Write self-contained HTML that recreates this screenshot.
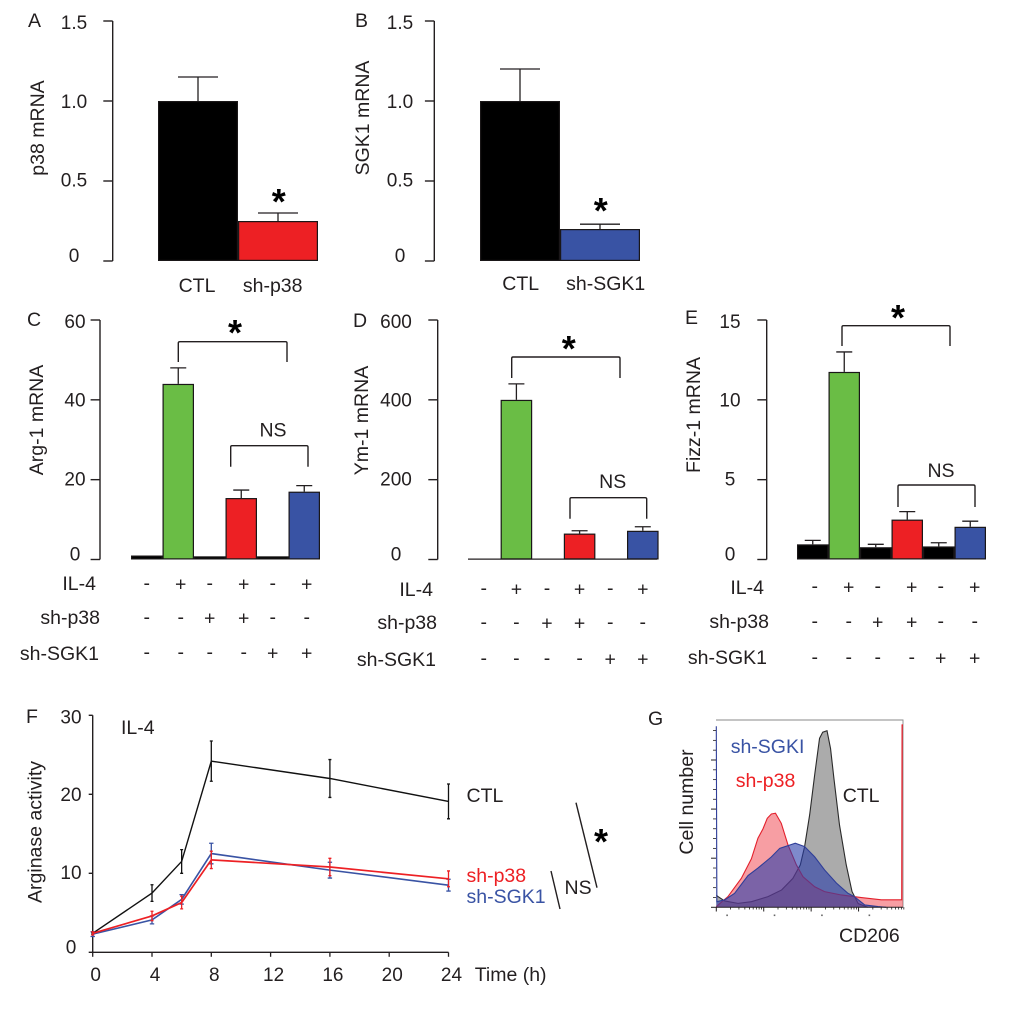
<!DOCTYPE html>
<html lang="en">
<head>
<meta charset="utf-8">
<title>Macrophage mRNA and arginase panels</title>
<style>
html,body{margin:0;padding:0;background:#fff;}
svg{display:block;}
text{font-family:"Liberation Sans",Arial,sans-serif;fill:#231f20;font-size:19.5px;}
.tick{font-size:19px;}
.star{font-size:36px;font-weight:bold;fill:#000;text-anchor:middle;}
.mid{text-anchor:middle;}
.end{text-anchor:end;}
.ln{fill:none;stroke:#231f20;stroke-width:1.4;}
</style>
</head>
<body>
<svg id="figure" width="1020" height="1020" viewBox="0 0 1020 1020" xmlns="http://www.w3.org/2000/svg">
  <rect x="0" y="0" width="1020" height="1020" fill="#fff"/>

  <g id="panel-a">
    <text x="28" y="27">A</text>
    <text class="mid" transform="translate(44,128) rotate(-90)">p38 mRNA</text>
    <text class="mid" x="197" y="292">CTL</text>
    <text class="mid" x="272.7" y="292">sh-p38</text>
    <text class="star" x="278.7" y="214">*</text>
  </g>

  <g id="panel-b">
    <text x="355" y="27">B</text>
    <text class="mid" transform="translate(369,118) rotate(-90)">SGK1 mRNA</text>
    <text class="mid" x="520.7" y="290">CTL</text>
    <text class="mid" x="605.7" y="290">sh-SGK1</text>
    <text class="star" x="600.7" y="223">*</text>
  </g>

  <g id="panel-c">
    <text x="27" y="326">C</text>
    <text class="mid" transform="translate(43,420) rotate(-90)">Arg-1 mRNA</text>
    <path class="ln" d="M178.3 362V343Q178.3 341.7 180 341.7H285.5Q287 341.7 287 343V362"/>
    <text class="star" x="235" y="345">*</text>
    <path class="ln" d="M230.7 466.7V447Q230.7 445.7 232 445.7H306.5Q308 445.7 308 447V466.7"/>
    <text class="mid" x="273" y="436.7">NS</text>
    <text class="end" x="96" y="590">IL-4</text>
    <text class="end" x="100" y="624">sh-p38</text>
    <text class="end" x="99" y="660">sh-SGK1</text>
  </g>

  <g id="panel-d">
    <text x="353" y="327">D</text>
    <text class="mid" transform="translate(368,420.5) rotate(-90)">Ym-1 mRNA</text>
    <path class="ln" d="M511.7 378V358.5Q511.7 357 513 357H618.5Q620 357 620 358.5V378"/>
    <text class="star" x="568.7" y="361">*</text>
    <path class="ln" d="M570 518.7V499Q570 497.7 571.5 497.7H645Q646.7 497.7 646.7 499V518.7"/>
    <text class="mid" x="612.7" y="488">NS</text>
    <text class="end" x="433" y="596">IL-4</text>
    <text class="end" x="437" y="629">sh-p38</text>
    <text class="end" x="436" y="666">sh-SGK1</text>
  </g>

  <g id="panel-e">
    <text x="685" y="324">E</text>
    <text class="mid" transform="translate(700,415) rotate(-90)">Fizz-1 mRNA</text>
    <path class="ln" d="M842 346V327Q842 325.7 843.5 325.7H948.5Q950 325.7 950 327V346"/>
    <text class="star" x="898" y="330">*</text>
    <path class="ln" d="M898 507V486.5Q898 485 899.5 485H973.5Q975 485 975 486.5V507"/>
    <text class="mid" x="941" y="477">NS</text>
    <text class="end" x="764" y="594">IL-4</text>
    <text class="end" x="769" y="628">sh-p38</text>
    <text class="end" x="767" y="664">sh-SGK1</text>
  </g>

  <g id="panel-f">
    <text x="26" y="723">F</text>
    <text class="mid" transform="translate(41.6,832) rotate(-90)">Arginase activity</text>
    <text x="121" y="734">IL-4</text>
    <text x="466.5" y="802">CTL</text>
    <text x="466.5" y="882" style="fill:#ed2024">sh-p38</text>
    <text x="466.5" y="903" style="fill:#3953a4">sh-SGK1</text>
    <text x="474.7" y="981">Time (h)</text>
    <text x="564.5" y="894">NS</text>
    <path class="ln" d="M551 871L560 909"/>
    <path class="ln" d="M576 802.7L597 887.7"/>
    <text class="star" x="601" y="854">*</text>
  </g>

  <g id="panel-g">
    <text x="648" y="725">G</text>
    <text class="mid" transform="translate(693,802) rotate(-90)">Cell number</text>
    <path fill="none" stroke="#8a8a8a" stroke-width="0.9" d="M716 720H903V907"/>
  </g>
  <g id="panel-g-labels">
    <text x="730.7" y="753" style="fill:#3953a4">sh-SGKI</text>
    <text x="735.7" y="787" style="fill:#ed2024">sh-p38</text>
    <text x="842.7" y="802">CTL</text>
    <text x="839" y="942">CD206</text>
  </g>
</svg>

<script>
// Panel A
const aCategories = ['CTL', 'sh-p38'];
const aValues = [1, 0.25];
const aErrorTops = [1.15, 0.3];
const aTicks = [0, 0.5, 1, 1.5];
const aTickLabels = ['0', '0.5', '1.0', '1.5'];
// Panel B
const bCategories = ['CTL', 'sh-SGK1'];
const bValues = [1, 0.2];
const bErrorTops = [1.2, 0.23];
const bTicks = [0, 0.5, 1, 1.5];
const bTickLabels = ['0', '0.5', '1.0', '1.5'];
// Panel C
const cValues = [1, 44, 0.8, 15.4, 0.8, 17];
const cErrorTops = [1, 48, 0.8, 17.4, 0.8, 18.5];
const cTicks = [0, 20, 40, 60];
const cTickLabels = ['0', '20', '40', '60'];
// Panel D
const dValues = [0, 400, 0, 65, 0, 72];
const dErrorTops = [0, 440, 0, 72, 0, 82];
const dTicks = [0, 200, 400, 600];
const dTickLabels = ['0', '200', '400', '600'];
// Panel E
const eValues = [0.95, 11.75, 0.77, 2.5, 0.82, 2.05];
const eErrorTops = [1.2, 13, 0.95, 3, 1.05, 2.4];
const eTicks = [0, 5, 10, 15];
const eTickLabels = ['0', '5', '10', '15'];
// Treatment sign rows (C, D, E)
const il4Signs = ['-', '+', '-', '+', '-', '+'];
const shP38Signs = ['-', '-', '+', '+', '-', '-'];
const shSgk1Signs = ['-', '-', '-', '-', '+', '+'];
// Panel F
const fTimes = [0, 4, 6, 8, 16, 24];
const fCtl = [2.4, 7.5, 11.5, 24.2, 22, 19.1];
const fCtlErr = [0.1, 1.05, 1.5, 2.55, 2.4, 2.2];
const fShP38 = [2.4, 4.6, 6.3, 11.7, 10.8, 9.3];
const fShP38Err = [0.2, 0.6, 0.8, 1.1, 1.1, 1];
const fShSgk1 = [2.3, 4.1, 6.7, 12.5, 10.4, 8.5];
const fShSgk1Err = [0.3, 0.5, 0.6, 1.3, 1, 0.75];
const fXTicks = [0, 4, 8, 12, 16, 20, 24];
const fXTickLabels = ['0', '4', '8', '12', '16', '20', '24'];
const fYTicks = [0, 10, 20, 30];
const fYTickLabels = ['0', '10', '20', '30'];
// Panel G: fluorescence channel and cell count, both on a 0-100 scale
const gCtlChannel = [0, 1, 4.5, 11.6, 18.8, 27.7, 35, 41, 45, 47.3, 50, 52.7, 55.3, 57, 59.3, 61.2, 63, 66, 69.6, 72.7, 76, 81];
const gCtlCount = [6.5, 5.7, 3.4, 2.1, 3, 5.7, 9.3, 15.5, 22.7, 32.5, 49.5, 71, 90.5, 93.8, 94.6, 85, 69, 44, 22.7, 8.4, 2, 0];
const gP38Channel = [0, 6.2, 13.4, 18.8, 22.3, 25, 27.3, 29.5, 31.7, 34.8, 38.4, 42.9, 46.4, 52.7, 58, 67, 77.7, 88.4, 99.3, 99.5, 100];
const gP38Count = [0.4, 5.7, 15.5, 26, 37, 42, 47.7, 50, 50.4, 45, 33.4, 22.7, 16.4, 11, 8.4, 6.6, 5.2, 4, 4, 97.7, 97.7];
const gSgk1Channel = [0, 0.3, 4.5, 9.8, 17, 22.3, 29.5, 34, 42.3, 47.3, 52.7, 58, 64.3, 70.5, 74, 79.5, 86.6, 91];
const gSgk1Count = [97, 3, 4, 7.5, 17, 21, 27, 31.6, 34.3, 32.5, 27, 20, 13, 7.5, 5.7, 1.25, 0.4, 0];
const gMajorDecades = [0, 1, 2, 3];

const SVG_NS = 'http://www.w3.org/2000/svg';
const INK = '#231f20';
const BLACK = '#000000', GREEN = '#6abd45', RED = '#ed2024', BLUE = '#3953a4';

function mk(parent, tag, attrs) {
  const el = document.createElementNS(SVG_NS, tag);
  for (const k in attrs) el.setAttribute(k, attrs[k]);
  parent.appendChild(el);
  return el;
}
function panel(id) { return document.getElementById(id); }
function linear(d0, d1, r0, r1) { return v => r0 + (v - d0) * (r1 - r0) / (d1 - d0); }

function drawYAxis(g, o) {
  const spine = mk(g, 'line', {x1: o.x, x2: o.x, y1: o.y(o.ticks[0]), y2: o.y(o.ticks[o.ticks.length - 1]), stroke: INK, 'stroke-width': 1.4});
  
  
  const maxTick = o.ticks[o.ticks.length - 1];
  o.ticks.forEach((v, i) => {
    const t = mk(g, 'line', {x1: o.x - o.len, x2: o.x, y1: o.y(v), y2: o.y(v), stroke: INK, 'stroke-width': 1.4});
    
    
    const off = v === 0 ? 1 : 4.5 + 3.5 * v / maxTick;
    const lab = mk(g, 'text', {x: o.labelX, y: o.y(v) + off, class: 'tick mid'});
    lab.textContent = o.labels[i];
    
    
  });
}

function drawBars(g, o) {
  o.values.forEach((v, i) => {
    const left = o.x0 + i * o.step;
    const c = left + o.step / 2;
    const top = o.y(o.errs[i]);
    const barTop = o.y(v);
    if (o.errs[i] > v) {
      const stem = mk(g, 'line', {x1: c, x2: c, y1: top, y2: barTop, stroke: INK, 'stroke-width': 1.3});
      
      
      const cap = mk(g, 'line', {x1: c - o.cap / 2, x2: c + o.cap / 2, y1: top, y2: top, stroke: INK, 'stroke-width': 1.3});
      
      
    }
    if (v > 0) {
      const bar = mk(g, 'rect', {x: left + 0.6, y: barTop + 0.6, width: o.step - 1.2, height: Math.max(0.2, o.y(0) - barTop - 1.2), fill: o.colors[i], stroke: '#1a1718', 'stroke-width': 1.2});
      
      
    }
  });
}

function drawSignRows(g, o) {
  [il4Signs, shP38Signs, shSgk1Signs].forEach((row, r) => {
    row.forEach((s, i) => {
      const c = o.x0 + (i + 0.5) * o.step + o.shift + (i % 2 ? o.oddShift : 0);
      const t = mk(g, 'text', {x: c, y: o.rowY[r] + (s === '+' ? 6.5 : 5.5), class: 'mid'});
      t.textContent = s;
      
      
    });
  });
}

// A
const yA = linear(0, 1.5, 261, 21);
drawYAxis(panel('panel-a'), {x: 112.7, len: 9.4, y: yA, ticks: aTicks, labels: aTickLabels, labelX: 74});
drawBars(panel('panel-a'), {x0: 158, step: 80, y: yA, values: aValues, errs: aErrorTops, cap: 40, colors: [BLACK, RED]});
// B
const yB = linear(0, 1.5, 261, 21);
drawYAxis(panel('panel-b'), {x: 434.3, len: 9.4, y: yB, ticks: bTicks, labels: bTickLabels, labelX: 400});
drawBars(panel('panel-b'), {x0: 480, step: 80, y: yB, values: bValues, errs: bErrorTops, cap: 40, colors: [BLACK, BLUE]});
// C
const sixColors = [BLACK, GREEN, BLACK, RED, BLACK, BLUE];
const yC = linear(0, 60, 559.5, 320);
drawYAxis(panel('panel-c'), {x: 100, len: 9.4, y: yC, ticks: cTicks, labels: cTickLabels, labelX: 75});
drawBars(panel('panel-c'), {x0: 131, step: 31.5, y: yC, values: cValues, errs: cErrorTops, cap: 16, colors: sixColors});
drawSignRows(panel('panel-c'), {x0: 131, step: 31.5, shift: 0, oddShift: 2.5, rowY: [584, 618, 653]});
// D
const yD = linear(0, 600, 559.5, 320);
drawYAxis(panel('panel-d'), {x: 437.7, len: 9.4, y: yD, ticks: dTicks, labels: dTickLabels, labelX: 396});
const dBase = mk(panel('panel-d'), 'line', {x1: 468, x2: 657, y1: yD(0) - 0.4, y2: yD(0) - 0.4, stroke: INK, 'stroke-width': 1.3});


drawBars(panel('panel-d'), {x0: 469, step: 31.6, y: yD, values: dValues, errs: dErrorTops, cap: 16, colors: sixColors});
drawSignRows(panel('panel-d'), {x0: 469, step: 31.6, shift: -1, oddShift: 1, rowY: [589, 623, 659]});
// E
const yE = linear(0, 15, 559.5, 320);
drawYAxis(panel('panel-e'), {x: 766.7, len: 9.4, y: yE, ticks: eTicks, labels: eTickLabels, labelX: 730});
drawBars(panel('panel-e'), {x0: 797, step: 31.5, y: yE, values: eValues, errs: eErrorTops, cap: 16, colors: sixColors});
drawSignRows(panel('panel-e'), {x0: 797, step: 31.5, shift: 2, oddShift: 2.5, rowY: [587, 622, 658]});

// F
const fg = panel('panel-f');
const xF = linear(0, 24, 92.7, 448.5);
const yF = linear(0, 30, 952.3, 715.3);
drawYAxis(fg, {x: 92.7, len: 4, y: yF, ticks: fYTicks, labels: fYTickLabels, labelX: 71});
const fXAxis = mk(fg, 'line', {x1: xF(0), x2: xF(24), y1: yF(0), y2: yF(0), stroke: INK, 'stroke-width': 1.4});


fXTicks.forEach((t, i) => {
  const tk = mk(fg, 'line', {x1: xF(t), x2: xF(t), y1: yF(0), y2: yF(0) + 4.5, stroke: INK, 'stroke-width': 1.3});
  
  
  const lb = mk(fg, 'text', {x: xF(t) + 3, y: 981, class: 'tick mid'});
  lb.textContent = fXTickLabels[i];
  
  
});
function drawSeries(values, errs, color, capHalf, width) {
  errs.forEach((e, i) => {
    const x = xF(fTimes[i]);
    const v = values[i];
    const stem = mk(fg, 'path', {d: 'M' + (x - capHalf) + ' ' + yF(v + e) + 'H' + (x + capHalf) + 'M' + x + ' ' + yF(v + e) + 'V' + yF(v - e) + 'M' + (x - capHalf) + ' ' + yF(v - e) + 'H' + (x + capHalf), fill: 'none', stroke: color, 'stroke-width': 1.3});
    
    
  });
  const pts = values.map((v, i) => xF(fTimes[i]) + ',' + yF(v)).join(' ');
  const line = mk(fg, 'polyline', {points: pts, fill: 'none', stroke: color, 'stroke-width': width});
  
  
}
drawSeries(fCtl, fCtlErr, '#111111', 1.5, 1.4);
drawSeries(fShSgk1, fShSgk1Err, BLUE, 2.2, 1.6);
drawSeries(fShP38, fShP38Err, RED, 1.5, 1.7);

// G
const gg = panel('panel-g');
const xG = linear(0, 100, 716.3, 903);
const yG = linear(0, 100, 907.3, 720.6);
function drawHistogram(channels, counts, fill, stroke) {
  const pts = channels.map((c, i) => xG(c) + ',' + yG(counts[i]));
  const area = mk(gg, 'polygon', {points: xG(channels[0]) + ',' + yG(0) + ' ' + pts.join(' ') + ' ' + xG(channels[channels.length - 1]) + ',' + yG(0), fill: fill, stroke: 'none'});
  
  
  const edge = mk(gg, 'polyline', {points: pts.join(' '), fill: 'none', stroke: stroke, 'stroke-width': 1.1});
  
  
}
drawHistogram(gCtlChannel, gCtlCount, 'rgba(115,115,115,0.6)', '#2a2a2a');
drawHistogram(gP38Channel, gP38Count, 'rgba(238,40,50,0.45)', '#e3202c');
drawHistogram(gSgk1Channel, gSgk1Count, 'rgba(40,60,170,0.6)', '#2f3e98');
const DECADE = 25.4;
gMajorDecades.forEach(d => {
  const base = d * DECADE;
  const mx = mk(gg, 'line', {x1: xG(base), x2: xG(base), y1: 907, y2: 911.5, stroke: INK, 'stroke-width': 1});
  
  
  const mark = mk(gg, 'rect', {x: xG(base) + 10, y: 914.5, width: 1.6, height: 1.6, fill: '#666'});
  
  
  for (let k = 2; k < 10; k++) {
    const xv = base + Math.log10(k) * DECADE;
    const mn = mk(gg, 'line', {x1: xG(xv), x2: xG(xv), y1: 907, y2: 909.5, stroke: INK, 'stroke-width': 0.8});
    
    
  }
  const yv = d * 26.3;
  const my = mk(gg, 'line', {x1: 711, x2: 716, y1: yG(yv), y2: yG(yv), stroke: INK, 'stroke-width': 1});
  
  
  for (let k = 1; k < 5; k++) {
    const v = yv + k * 26.3 / 5;
    if (v > 97) continue;
    const ny = mk(gg, 'line', {x1: 713, x2: 716, y1: yG(v), y2: yG(v), stroke: INK, 'stroke-width': 0.8});
    
    
  }
});
const gBase = mk(gg, 'line', {x1: 716, x2: 903, y1: 907.3, y2: 907.3, stroke: INK, 'stroke-width': 1});


</script>
</body>
</html>
